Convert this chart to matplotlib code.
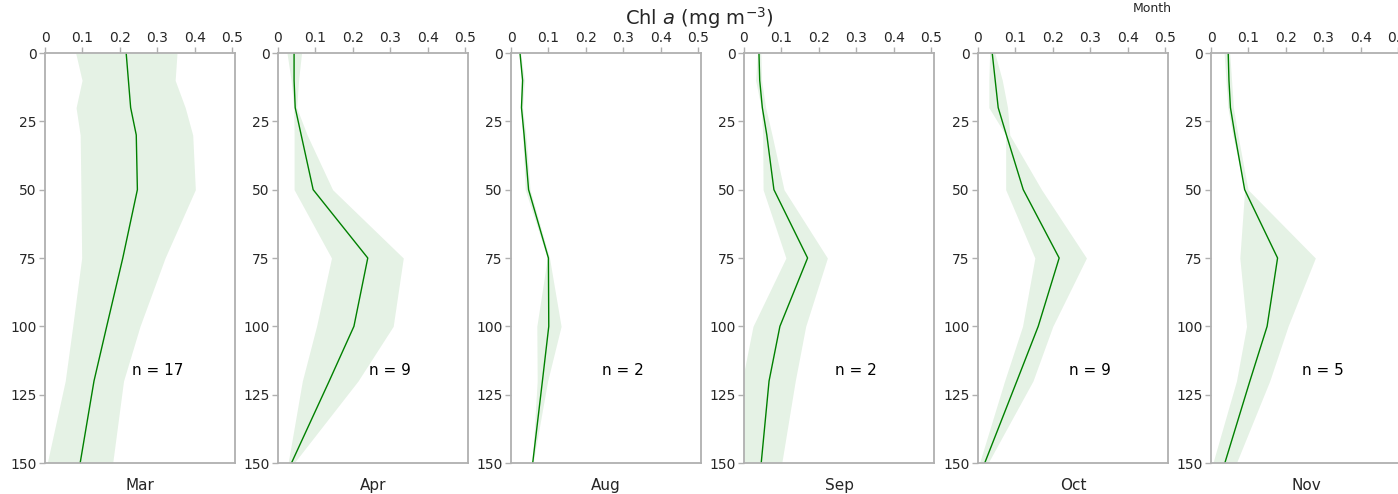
import matplotlib
matplotlib.use("Agg")
import matplotlib.pyplot as plt
import numpy as np

# ---------------- data ----------------
months = ["Mar", "Apr", "Aug", "Sep", "Oct", "Nov"]
n_profiles = [17, 9, 2, 2, 9, 5]
depth = [0, 10, 20, 30, 50, 75, 100, 120, 150]
x_ticks = [0, 0.1, 0.2, 0.3, 0.4, 0.5]
x_tick_labels = ["0", "0.1", "0.2", "0.3", "0.4", "0.5"]
y_ticks = [0, 25, 50, 75, 100, 125, 150]

mar_mean = [0.217, 0.223, 0.229, 0.244, 0.247, 0.208, 0.165, 0.131, 0.094]
mar_lo = [0.082, 0.099, 0.083, 0.094, 0.096, 0.098, 0.074, 0.054, 0.006]
mar_hi = [0.353, 0.348, 0.375, 0.395, 0.402, 0.321, 0.254, 0.210, 0.181]

apr_mean = [0.043, 0.043, 0.046, 0.062, 0.094, 0.240, 0.203, 0.137, 0.036]
apr_lo = [0.024, 0.035, 0.042, 0.043, 0.043, 0.143, 0.103, 0.065, 0.027]
apr_hi = [0.063, 0.055, 0.050, 0.078, 0.146, 0.335, 0.308, 0.214, 0.043]

aug_mean = [0.024, 0.031, 0.028, 0.035, 0.047, 0.100, 0.101, 0.084, 0.058]
aug_lo = [0.022, 0.029, 0.026, 0.031, 0.038, 0.097, 0.069, 0.070, 0.057]
aug_hi = [0.026, 0.036, 0.031, 0.040, 0.051, 0.103, 0.134, 0.098, 0.059]

sep_mean = [0.040, 0.042, 0.049, 0.061, 0.080, 0.170, 0.096, 0.067, 0.046]
sep_lo = [0.036, 0.031, 0.046, 0.050, 0.051, 0.112, 0.024, -0.005, -0.010]
sep_hi = [0.045, 0.047, 0.058, 0.075, 0.107, 0.223, 0.165, 0.137, 0.101]

oct_mean = [0.038, 0.046, 0.054, 0.076, 0.121, 0.217, 0.161, 0.104, 0.018]
oct_lo = [0.031, 0.029, 0.029, 0.074, 0.074, 0.152, 0.119, 0.071, 0.004]
oct_hi = [0.045, 0.065, 0.079, 0.085, 0.170, 0.290, 0.200, 0.147, 0.027]

nov_mean = [0.046, 0.048, 0.052, 0.064, 0.090, 0.178, 0.150, 0.104, 0.037]
nov_lo = [0.035, 0.040, 0.045, 0.058, 0.090, 0.077, 0.095, 0.068, 0.005]
nov_hi = [0.050, 0.055, 0.060, 0.072, 0.099, 0.279, 0.206, 0.157, 0.068]

means = [mar_mean, apr_mean, aug_mean, sep_mean, oct_mean, nov_mean]
lows = [mar_lo, apr_lo, aug_lo, sep_lo, oct_lo, nov_lo]
highs = [mar_hi, apr_hi, aug_hi, sep_hi, oct_hi, nov_hi]

# ---------------- figure ----------------
W, H = 1398, 494
fig = plt.figure(figsize=(W / 100, H / 100), dpi=100)

ax_left_px = [45, 278, 511, 744, 978, 1211]
ax_w_px = 190
ax_top_px = 53
ax_bot_px = 463

spine_col = "#b0b0b0"
text_col = "#262626"

for i, m in enumerate(months):
    ax = fig.add_axes([ax_left_px[i] / W, (H - ax_bot_px) / H,
                       ax_w_px / W, (ax_bot_px - ax_top_px) / H])
    ax.fill_betweenx(depth, lows[i], highs[i], color="green", alpha=0.1,
                     linewidth=0)
    ax.plot(means[i], depth, color="green", linewidth=1.0)
    ax.set_xlim(0, 0.508)
    ax.set_ylim(150, 0)
    ax.xaxis.tick_top()
    ax.set_xticks(x_ticks)
    ax.set_xticklabels(x_tick_labels)
    ax.set_yticks(y_ticks)
    ax.tick_params(axis="both", labelsize=10, colors=spine_col,
                   labelcolor=text_col, length=4, width=1, pad=2)
    for s in ax.spines.values():
        s.set_color(spine_col)
        s.set_linewidth(1.3)
    ax.text(0.3, 116, f"n = {n_profiles[i]}", ha="center", va="center",
            fontsize=11, color="black")
    ax.text(0.5, -0.055, m, transform=ax.transAxes, ha="center", va="center",
            fontsize=11, color=text_col)

fig.text(699 / W, 1 - 18 / H, r"Chl $a$ (mg m$^{-3}$)", ha="center",
         va="center", fontsize=14, color=text_col)
fig.text(1152 / W, 1 - 9 / H, "Month", ha="center", va="center",
         fontsize=9, color=text_col)

fig.savefig("out.png", dpi=100)
